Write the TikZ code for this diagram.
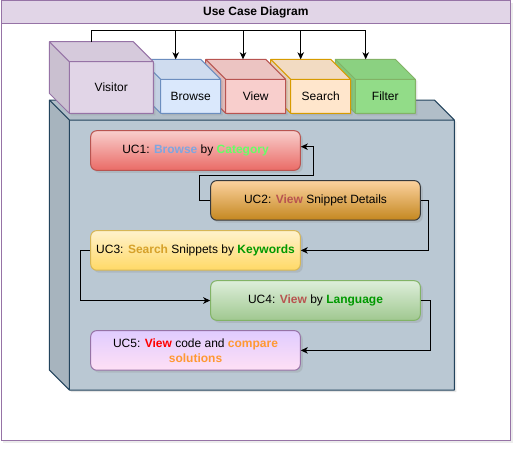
\documentclass[tikz,border=0pt]{standalone}
\usepackage{fontspec}
\setmainfont{Liberation Sans}
\usetikzlibrary{shadows,arrows.meta}
\definecolor{hdrfill}{HTML}{E1D5E7}
\definecolor{hdrstroke}{HTML}{9673A6}
\definecolor{visfill}{HTML}{E1D5E7}
\definecolor{visstroke}{HTML}{9673A6}
\definecolor{brfill}{HTML}{DAE8FC}
\definecolor{brstroke}{HTML}{6C8EBF}
\definecolor{vwfill}{HTML}{F8CECC}
\definecolor{vwstroke}{HTML}{B85450}
\definecolor{srfill}{HTML}{FFE6CC}
\definecolor{srstroke}{HTML}{D79B00}
\definecolor{flfill}{HTML}{92DC88}
\definecolor{flstroke}{HTML}{82B366}
\definecolor{ctfill}{HTML}{BAC8D3}
\definecolor{ctstroke}{HTML}{23445D}
\definecolor{ucAtop}{HTML}{F8CECC}
\definecolor{ucAbot}{HTML}{EA6B66}
\definecolor{ucAstroke}{HTML}{B85450}
\definecolor{ucBtop}{HTML}{FCD29F}
\definecolor{ucBbot}{HTML}{C4871F}
\definecolor{ucBstroke}{HTML}{36393D}
\definecolor{ucCtop}{HTML}{FFF2CC}
\definecolor{ucCbot}{HTML}{FFD966}
\definecolor{ucCstroke}{HTML}{D6B656}
\definecolor{ucDtop}{HTML}{DDEEDA}
\definecolor{ucDbot}{HTML}{A0C890}
\definecolor{ucDstroke}{HTML}{82B366}
\definecolor{ucEtop}{HTML}{E0CCFF}
\definecolor{ucEbot}{HTML}{FFE0F5}
\definecolor{ucEstroke}{HTML}{9673A6}
\definecolor{tBrowse}{HTML}{7EA6E0}
\definecolor{tCategory}{HTML}{66FF66}
\definecolor{tViewA}{HTML}{B85450}
\definecolor{tSearch}{HTML}{D6A12A}
\definecolor{tGreen}{HTML}{009900}
\definecolor{tRed}{HTML}{FF0000}
\definecolor{tOrange}{HTML}{FF9933}
\newcommand{\cubebox}[7]{%
  \path[fill=#6, drop shadow={opacity=0.2,shadow xshift=2pt,shadow yshift=-2pt}]
    (#1,#2) -- ({#3-#5},#2) -- (#3,{#2+#5}) -- (#3,#4) -- ({#1+#5},#4) -- (#1,{#4-#5}) -- cycle;
  \fill[#6!95!black] (#1,#2) -- ({#3-#5},#2) -- (#3,{#2+#5}) -- ({#1+#5},{#2+#5}) -- cycle;
  \fill[#6!90!black] (#1,#2) -- ({#1+#5},{#2+#5}) -- ({#1+#5},#4) -- (#1,{#4-#5}) -- cycle;
  \draw[#7, line width=1pt, line join=round]
    (#1,#2) -- ({#3-#5},#2) -- (#3,{#2+#5}) -- (#3,#4) -- ({#1+#5},#4) -- (#1,{#4-#5}) -- cycle
    (#1,#2) -- ({#1+#5},{#2+#5}) -- (#3,{#2+#5})
    ({#1+#5},{#2+#5}) -- ({#1+#5},#4);
}
\begin{document}
\begin{tikzpicture}[x=1pt,y=-1pt,
  every node/.style={font=\fontsize{12}{14}\selectfont, inner sep=0pt},
  conn/.style={line width=1pt, draw=black},
  arr/.style={conn, -{Stealth[length=7pt,width=6.5pt,inset=2pt]}},
  ucbox/.style={draw, line width=1pt, rounded corners=6pt, minimum width=209.6pt, minimum height=39.6pt,
    align=center, drop shadow={opacity=0.22,shadow xshift=2.5pt,shadow yshift=-2.5pt}},
  cubelabel/.style={text=black}
]
\useasboundingbox (0,0) rectangle (522,452);
% frame
\path[fill=white, drop shadow={opacity=0.15,shadow xshift=2pt,shadow yshift=-2pt}] (1,1) rectangle (510.7,440.7);
\draw[hdrstroke, line width=1pt] (1,1) rectangle (510.7,440.7);
\draw[hdrstroke, fill=hdrfill, line width=1pt] (1,1) rectangle (510.7,23.3);
\node[font=\fontsize{12}{14}\selectfont\bfseries] (title) at (255.8,12.2) {Use Case Diagram};
% container cube
\cubebox{49.3}{100}{454.3}{390}{20}{ctfill}{ctstroke}
\coordinate (system) at (261.8,255);
% actor / action cubes (right to left so left ones sit on top)
\cubebox{335.3}{59.3}{415.3}{113.3}{20}{flfill}{flstroke}
\node[cubelabel] (filter) at (385.3,96.3) {Filter};
\cubebox{270.7}{59.3}{350.7}{113.3}{20}{srfill}{srstroke}
\node[cubelabel] (search) at (320.7,96.3) {Search};
\cubebox{205.7}{59.3}{285.7}{113.3}{20}{vwfill}{vwstroke}
\node[cubelabel] (view) at (255.7,96.3) {View};
\cubebox{140.7}{59.3}{220.7}{113.3}{20}{brfill}{brstroke}
\node[cubelabel] (browse) at (190.7,96.3) {Browse};
\cubebox{49.3}{41.7}{153.3}{113.3}{20}{visfill}{visstroke}
\node[cubelabel] (visitor) at (111.3,87.2) {Visitor};
% visitor connectors
\coordinate (vtop) at (91.3,41.7);
\coordinate (bus) at (91.3,30.7);
\coordinate (browseTop) at (175.7,59.3);
\coordinate (viewTop) at (243,59.3);
\coordinate (searchTop) at (300.7,59.3);
\coordinate (filterTop) at (365.7,59.3);
\draw[conn] (vtop) -- (bus);
\draw[arr] (bus) -| (browseTop);
\draw[arr] (bus) -| (viewTop);
\draw[arr] (bus) -| (searchTop);
\draw[arr] (bus) -| (filterTop);
% use cases
\node[ucbox, draw=ucAstroke, top color=ucAtop, bottom color=ucAbot] (uc1) at (195.5,150.5)
  {UC1: \textbf{\color{tBrowse}Browse} by \textbf{\color{tCategory}Category}};
\node[ucbox, draw=ucBstroke, top color=ucBtop, bottom color=ucBbot] (uc2) at (315.5,200.4)
  {UC2: \textbf{\color{tViewA}View} Snippet Details};
\node[ucbox, draw=ucCstroke, top color=ucCtop, bottom color=ucCbot] (uc3) at (195.5,250.4)
  {UC3: \textbf{\color{tSearch}Search} Snippets by \textbf{\color{tGreen}Keywords}};
\node[ucbox, draw=ucDstroke, top color=ucDtop, bottom color=ucDbot] (uc4) at (315.5,300.5)
  {UC4: \textbf{\color{tViewA}View} by \textbf{\color{tGreen}Language}};
\node[ucbox, draw=ucEstroke, top color=ucEtop, bottom color=ucEbot, font=\fontsize{12}{15}\selectfont] (uc5) at (195.5,350.4)
  {UC5: \textbf{\color{tRed}View} code and \textbf{\color{tOrange}compare}\\\textbf{\color{tOrange}solutions}};
% use case connectors
\draw[arr] (uc2.west) -- (199.3,200.4) |- (313.3,175.3) |- ([yshift=3.8pt]uc1.east);
\draw[arr] (uc2.east) -- (428.3,200.4) |- (uc3.east);
\draw[arr] (uc3.west) -- (80.3,250.4) |- (uc4.west);
\draw[arr] (uc4.east) -- (430,300.5) |- (uc5.east);
\end{tikzpicture}
\end{document}
